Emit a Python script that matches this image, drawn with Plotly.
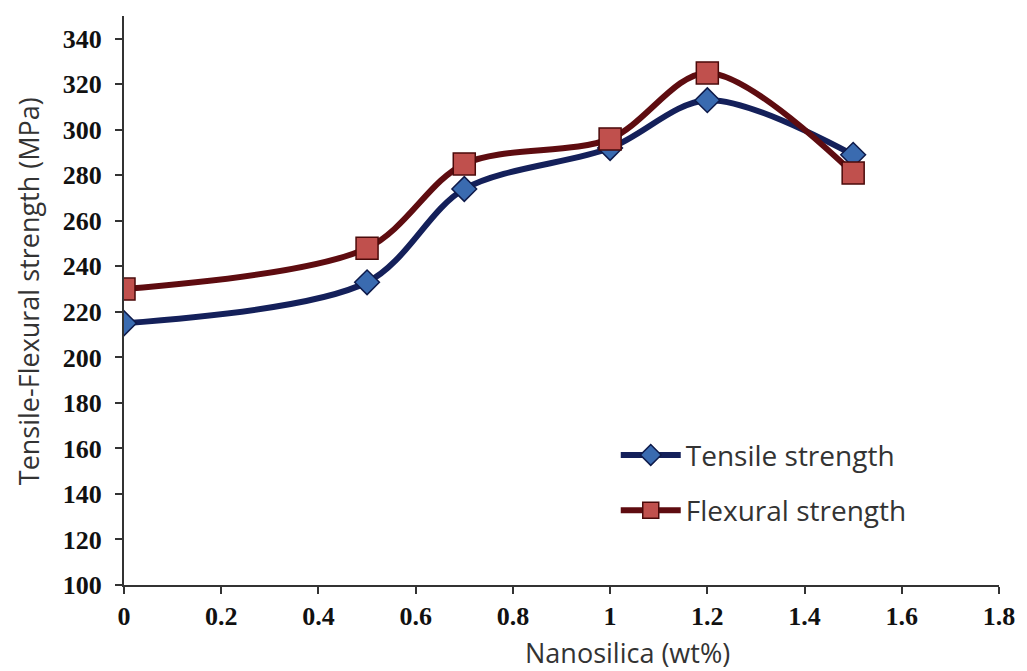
import plotly.graph_objects as go

nanosilica = [0, 0.5, 0.7, 1.0, 1.2, 1.5]
tensile = [215, 233, 274, 292, 313, 289]
flexural = [230, 248, 285, 296, 325, 281]

x_ticks = [0, 0.2, 0.4, 0.6, 0.8, 1, 1.2, 1.4, 1.6, 1.8]
x_tick_labels = ["0", "0.2", "0.4", "0.6", "0.8", "1", "1.2", "1.4", "1.6", "1.8"]
y_ticks = list(range(100, 341, 20))

x_title = "Nanosilica (wt%)"
y_title = "Tensile-Flexural strength (MPa)"

fig = go.Figure()
fig.add_trace(go.Scatter(
    x=nanosilica, y=tensile, name="Tensile strength", mode="lines+markers",
    line=dict(color="#14205a", width=6, shape="spline", smoothing=0.9),
    marker=dict(symbol="diamond", size=19, color="#3a6bb0", line=dict(color="#0e1a4a", width=1.5)),
    legendgroup="a",
))
fig.add_trace(go.Scatter(
    x=nanosilica, y=flexural, name="Flexural strength", mode="lines+markers",
    line=dict(color="#5e0c10", width=6, shape="spline", smoothing=0.9),
    marker=dict(symbol="square", size=22, color="#c0504d", line=dict(color="#4a0a0a", width=1.5)),
    legendgroup="b",
))

axis_common = dict(
    showline=True, linecolor="#333333", linewidth=2,
    ticks="outside", tickcolor="#333333", tickwidth=2, ticklen=7,
    showgrid=False, zeroline=False,
    tickfont=dict(family="Liberation Serif", size=26, color="#111111", weight="bold"),
)

fig.update_xaxes(range=[0, 1.8], tickvals=x_ticks, ticktext=x_tick_labels, **axis_common)
fig.update_yaxes(range=[100, 350], tickvals=y_ticks, ticklabelstandoff=8, **axis_common)

title_font = dict(family="Open Sans", size=27, color="#333333")
fig.add_annotation(text=x_title, xref="paper", yref="paper", x=(629 - 124) / 877,
                   y=-(652 - 585) / 569, showarrow=False, font=title_font,
                   xanchor="center", yanchor="middle")
fig.add_annotation(text=y_title, xref="paper", yref="paper", x=-(124 - 28) / 877,
                   y=(585 - 291) / 569, showarrow=False, font=title_font, textangle=-90,
                   xanchor="center", yanchor="middle")

fig.update_layout(
    width=1027, height=671,
    margin=dict(l=124, r=26, t=16, b=86),
    plot_bgcolor="white", paper_bgcolor="white",
    legend=dict(x=0.562, y=0.272, xanchor="left", yanchor="top",
                font=dict(family="Open Sans", size=28, color="#333333"),
                tracegroupgap=16, itemwidth=60, bgcolor="rgba(0,0,0,0)"),
)

fig.write_html("out.html")
